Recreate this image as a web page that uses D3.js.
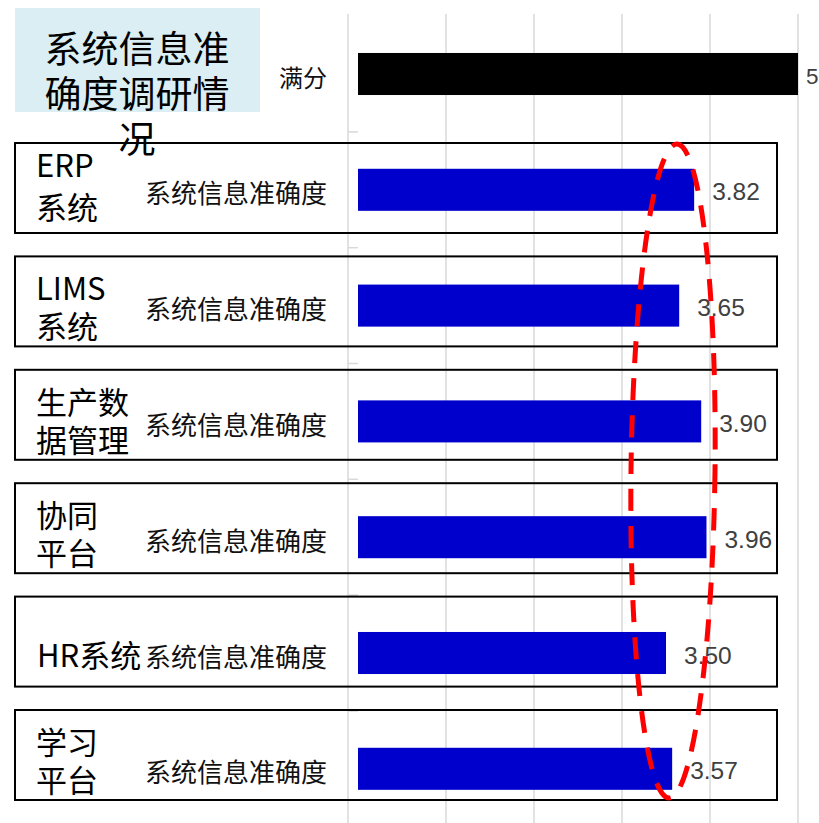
<!DOCTYPE html>
<html lang="zh">
<head>
<meta charset="UTF-8">
<title>系统信息准确度调研情况</title>
<script src="https://d3js.org/d3.v7.min.js"></script>
<style>
  body { margin: 0; background: #fff; }
  text { font-family: "Noto Sans CJK SC", "Noto Sans", sans-serif; }
</style>
</head>
<body>
<div id="chart"></div>
<script>
// data
var categories = ["满分", "ERP系统", "LIMS系统", "生产数据管理", "协同平台", "HR系统", "学习平台"];
var values = [5, 3.82, 3.65, 3.90, 3.96, 3.50, 3.57];
var valueLabels = ["5", "3.82", "3.65", "3.90", "3.96", "3.50", "3.57"];
var axisLabels = ["满分", "系统信息准确度", "系统信息准确度", "系统信息准确度", "系统信息准确度", "系统信息准确度", "系统信息准确度"];
var boxLines = [null, ["ERP", "系统"], ["LIMS", "系统"], ["生产数", "据管理"], ["协同", "平台"], ["HR系统"], ["学习", "平台"]];
var titleLines = ["系统信息准", "确度调研情", "况"];
var xTicks = [1, 2, 3, 4, 5];

var width = 819, height = 823;

var svg = d3.select("#chart").append("svg")
    .attr("width", width)
    .attr("height", height);

var x = d3.scaleLinear().domain([0, 5]).range([358, 798]);
var y = d3.scaleBand().domain(categories)
    .range([16.1, 826.7])
    .paddingInner(0.637)
    .paddingOuter(0.3185);

// gridlines
svg.append("g").selectAll("line")
    .data(xTicks)
    .enter().append("line")
      .attr("x1", function(d) { return x(d); })
      .attr("x2", function(d) { return x(d); })
      .attr("y1", 14).attr("y2", height)
      .attr("stroke", "#d9d9d9")
      .attr("stroke-width", 1.5);

// axis line + category separators
svg.append("line")
    .attr("x1", 348).attr("x2", 348)
    .attr("y1", 14).attr("y2", height)
    .attr("stroke", "#d9d9d9").attr("stroke-width", 1.5);

svg.append("g").selectAll("line")
    .data(categories.slice(1))
    .enter().append("line")
      .attr("x1", 348).attr("x2", 358)
      .attr("y1", function(d) { return y(d) - y.step() * y.paddingInner() / 2; })
      .attr("y2", function(d) { return y(d) - y.step() * y.paddingInner() / 2; })
      .attr("stroke", "#d9d9d9").attr("stroke-width", 1.5);

// bars
svg.append("g").selectAll("rect")
    .data(categories)
    .enter().append("rect")
      .attr("x", x(0))
      .attr("y", function(d) { return y(d); })
      .attr("width", function(d, i) { return x(values[i]) - x(0); })
      .attr("height", y.bandwidth())
      .attr("fill", function(d, i) { return i == 0 ? "#000000" : "#0000cc"; });

// value labels
svg.append("g").selectAll("text")
    .data(categories)
    .enter().append("text")
      .attr("x", function(d, i) { return x(values[i]) + (i == 0 ? 8 : 18); })
      .attr("y", function(d) { return y(d) + y.bandwidth() / 2 + 2; })
      .attr("dy", "0.35em")
      .style("font-family", "'Liberation Sans', Arial, sans-serif")
      .style("font-size", function(d, i) { return i == 0 ? "22.5px" : "24.5px"; })
      .style("fill", "#404040")
      .text(function(d, i) { return valueLabels[i]; });

// axis labels
svg.append("g").selectAll("text")
    .data(categories)
    .enter().append("text")
      .attr("x", 327)
      .attr("y", function(d) { return y(d) + y.bandwidth() / 2 + 2; })
      .attr("text-anchor", "end")
      .attr("dominant-baseline", "central")
      .style("font-size", function(d, i) { return i == 0 ? "24px" : "26px"; })
      .style("fill", "#111")
      .text(function(d, i) { return axisLabels[i]; });

// boxes around each system row
var boxTop0 = 143, boxStep = 113.4, boxH = 90;
boxLines.forEach(function(lines, i) {
  if (!lines) return;
  var top = boxTop0 + (i - 1) * boxStep;
  var mid = top + boxH / 2;
  svg.append("rect")
      .attr("x", 15).attr("y", top)
      .attr("width", 762).attr("height", boxH)
      .attr("fill", "none")
      .attr("stroke", "#000")
      .attr("stroke-width", 2);
  if (lines.length == 1) {
    svg.append("text")
        .attr("x", 37).attr("y", y(categories[i]) + y.bandwidth() / 2)
        .attr("dominant-baseline", "central")
        .style("font-size", "31px")
        .style("fill", "#000")
        .text(lines[0]);
  } else {
    var offs = i == 1 ? [-25, 17] : [-15, 23];
    var t = svg.append("text")
        .attr("dominant-baseline", "central")
        .style("font-size", "31px")
        .style("fill", "#000");
    lines.forEach(function(s, k) {
      t.append("tspan")
          .attr("x", 36).attr("y", mid + offs[k])
          .text(s);
    });
  }
});

// title block
svg.append("rect")
    .attr("x", 15).attr("y", 8)
    .attr("width", 245).attr("height", 104)
    .attr("fill", "#daeef3");
var title = svg.append("text")
    .attr("text-anchor", "middle")
    .attr("dominant-baseline", "central")
    .style("font-size", "37px")
    .style("fill", "#000");
titleLines.forEach(function(s, i) {
  title.append("tspan")
      .attr("x", 137)
      .attr("y", 47 + i * 45)
      .text(s);
});

// red dashed highlight
svg.append("ellipse")
    .attr("cx", 673).attr("cy", 471)
    .attr("rx", 42).attr("ry", 327)
    .attr("transform", "rotate(0.7,673,471)")
    .attr("fill", "none")
    .attr("stroke", "#ff0000")
    .attr("stroke-width", 5)
    .attr("stroke-dasharray", "22,15");
</script>
</body>
</html>
